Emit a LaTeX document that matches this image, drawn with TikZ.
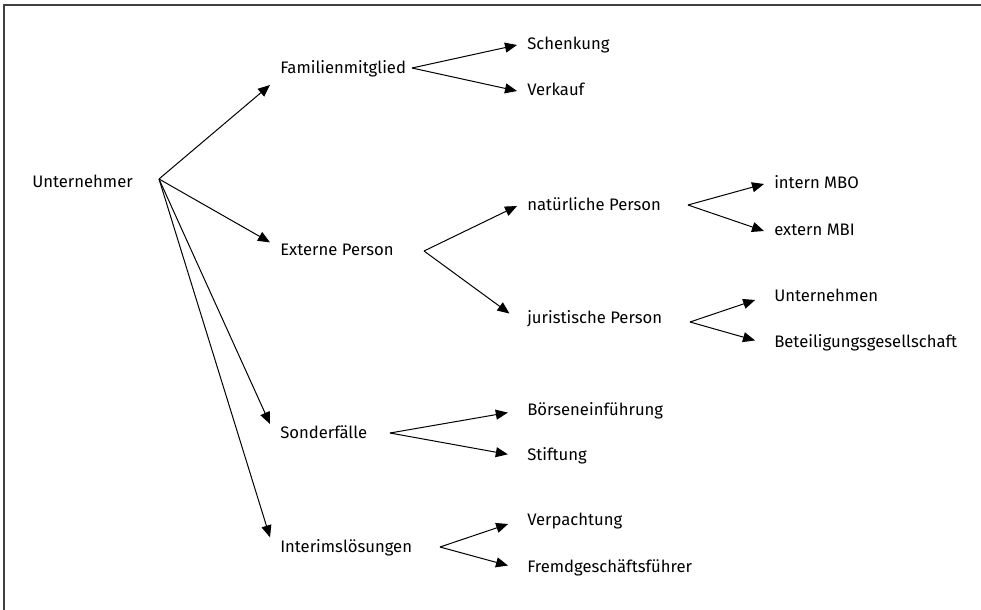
\documentclass[tikz,border=0pt]{standalone}
\usepackage{fontspec}
\setmainfont{Fira Sans}
\usetikzlibrary{arrows.meta}
\begin{document}
\begin{tikzpicture}[
    x=0.75pt, y=-0.75pt,
    every node/.style={anchor=west, inner xsep=7.5pt, inner ysep=0pt,
                       font=\fontsize{12.5}{15}\selectfont,
                       text height=1.6ex, text depth=.3ex},
    arr/.style={draw, line width=0.75pt, -{Triangle[length=9pt, width=7.5pt]}},
    far/.style={arr, shorten >=7pt},
    frame/.style={draw=black!75, line width=1.2pt},
  ]
  \useasboundingbox (0,0) rectangle (981,610);
  \draw[frame] (4,610) -- (4,5) -- (981,5);

  \node (unt) at (22,183) {Unternehmer};
  \node (fam) at (270,69)  {Familienmitglied};
  \node (ext) at (270,251) {Externe Person};
  \node (son) at (270,434) {Sonderfälle};
  \node (int) at (270,548) {Interimslösungen};

  \node (sch) at (517,45)  {Schenkung};
  \node (ver) at (517,91)  {Verkauf};
  \node (nat) at (517,206) {natürliche Person};
  \node (jur) at (517,319) {juristische Person};
  \node (boe) at (517,411) {Börseneinführung};
  \node (sti) at (517,456) {Stiftung};
  \node (vpa) at (517,521) {Verpachtung};
  \node (fgf) at (517,568) {Fremdgeschäftsführer};

  \node (mbo) at (764,184) {intern MBO};
  \node (mbi) at (764,231) {extern MBI};
  \node (unn) at (764,297) {Unternehmen};
  \node (bet) at (764,343) {Beteiligungsgesellschaft};

  \coordinate (unt-b) at (159,179);
  \coordinate (fam-b) at (412,68);
  \coordinate (ext-b) at (424,251);
  \coordinate (son-b) at (390,433);
  \coordinate (int-b) at (440,547);
  \coordinate (nat-b) at (688,205);
  \coordinate (jur-b) at (690,322);

  \draw[arr] (unt-b) -- ([yshift=-12pt]fam.west);
  \draw[arr] (unt-b) -- ([yshift=6.5pt]ext.west);
  \draw[arr] (unt-b) -- ([yshift=7.5pt]son.west);
  \draw[arr] (unt-b) -- ([yshift=8pt]int.west);

  \draw[arr] (fam-b) -- (sch.west);
  \draw[arr] (fam-b) -- (ver.west);
  \draw[arr] (ext-b) -- (nat.west);
  \draw[far] (ext-b) -- (jur.west);
  \draw[far] (son-b) -- (boe.west);
  \draw[far] (son-b) -- (sti.west);
  \draw[far] (int-b) -- (vpa.west);
  \draw[far] (int-b) -- (fgf.west);

  \draw[arr] (nat-b) -- (mbo.west);
  \draw[arr] (nat-b) -- (mbi.west);
  \draw[far] (jur-b) -- (unn.west);
  \draw[far] (jur-b) -- (bet.west);
\end{tikzpicture}
\end{document}
